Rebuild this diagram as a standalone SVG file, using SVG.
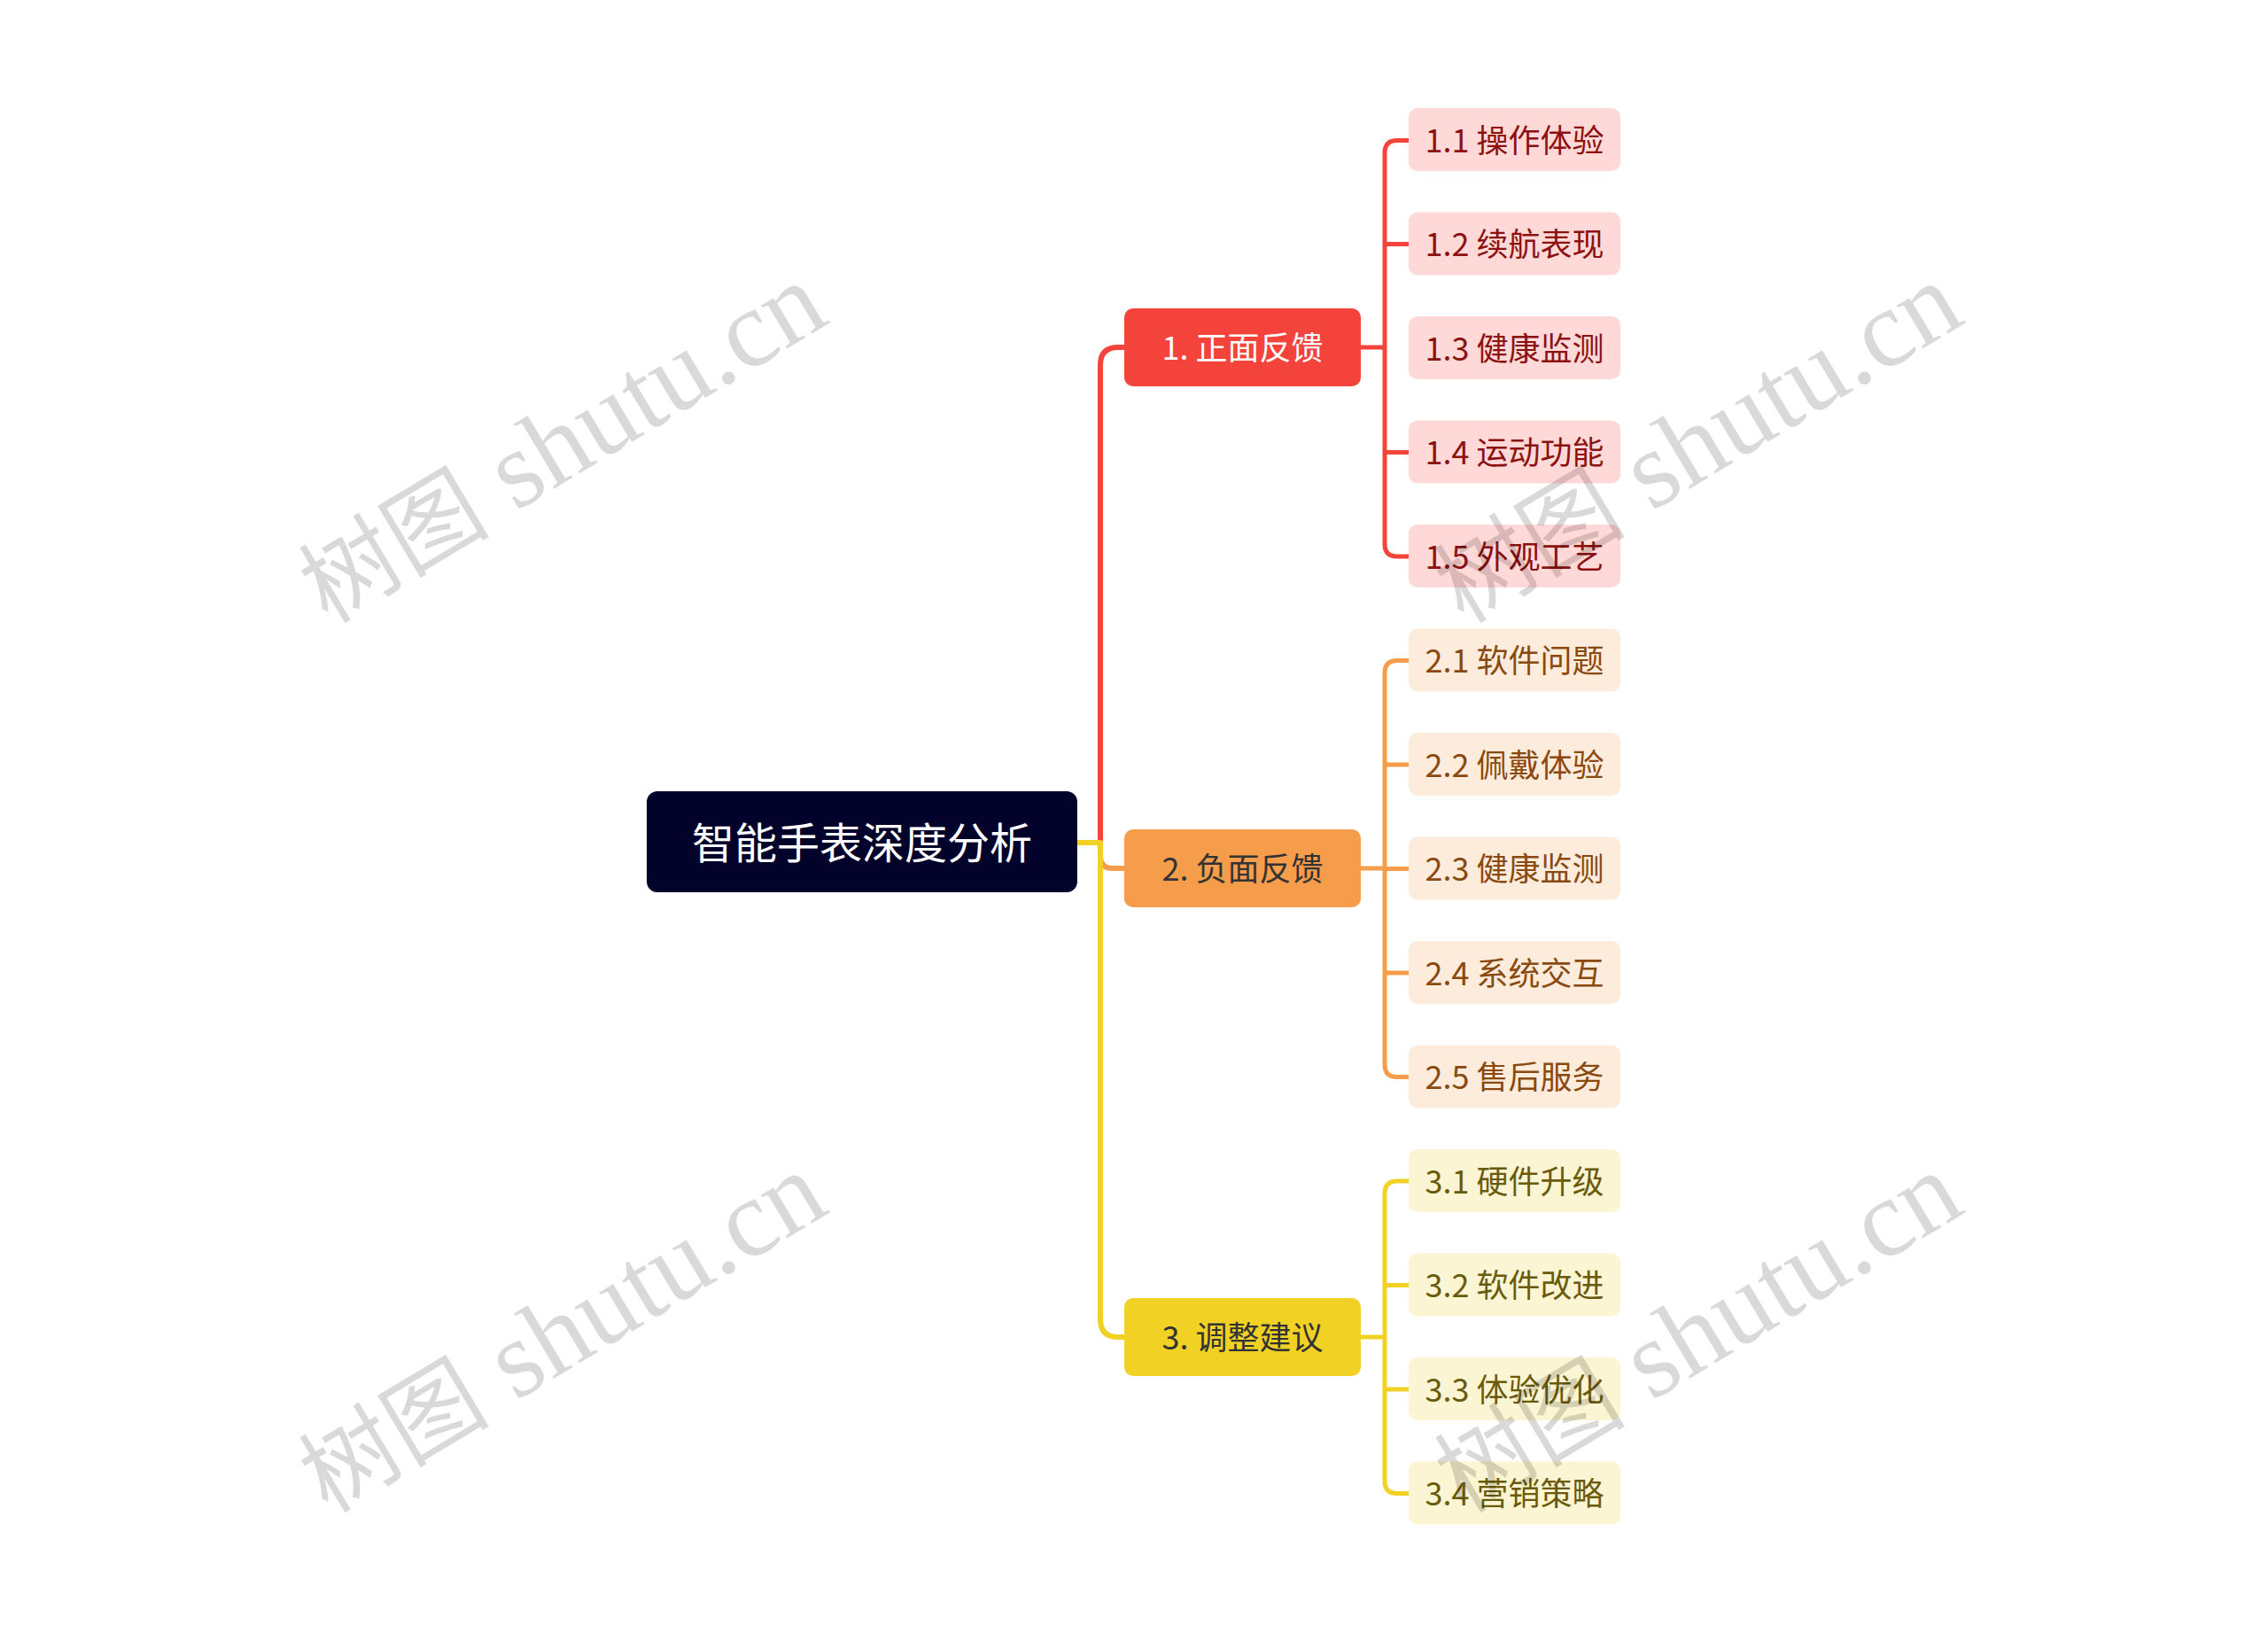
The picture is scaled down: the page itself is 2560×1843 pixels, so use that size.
<svg xmlns="http://www.w3.org/2000/svg" width="2560" height="1843" viewBox="0 0 2560 1843">
<style>
  .t { font-family: "Noto Sans CJK SC", "Liberation Sans", sans-serif; text-anchor: middle; dominant-baseline: central; }
  .c1 { fill: #FFD9D7; } .c2 { fill: #FDECDC; } .c3 { fill: #FCF5D3; }
  .ct1 { fill: #8C1111; font-size: 36px; } .ct2 { fill: #8A4A0F; font-size: 36px; } .ct3 { fill: #6A5B0C; font-size: 36px; }
  .ln { fill: none; stroke-linecap: butt; stroke-linejoin: round; }
  .r { stroke: #F4433B; } .o { stroke: #F59D4A; } .y { stroke: #F2D125; }
  .wm { fill: #000; fill-opacity: 0.15; }
  .wc { font-family: "Noto Sans CJK SC", sans-serif; font-size: 108px; }
  .wl { font-family: "Liberation Serif", serif; font-size: 124px; }
</style>
<rect width="2560" height="1843" fill="#FFFFFF"/>
<g id="connectors">
  <path class="ln r" stroke-width="6" d="M1242,951 V412 Q1242,392 1262,392 H1270"/>
  <path class="ln o" stroke-width="6" d="M1242,955 V966 Q1242,980 1256,980 H1270"/>
  <path class="ln y" stroke-width="6" d="M1215,951 H1242 V1489 Q1242,1509 1262,1509 H1270"/>
  <path class="ln r" stroke-width="5" d="M1536,392 H1563 M1591,158.5 H1577 Q1563,158.5 1563,172.5 V614 Q1563,628 1577,628 H1591 M1563,275.5 H1591 M1563,510.5 H1591"/>
  <path class="ln o" stroke-width="5" d="M1536,980 H1563 M1591,745.5 H1577 Q1563,745.5 1563,759.5 V1201.5 Q1563,1215.5 1577,1215.5 H1591 M1563,863 H1591 M1563,1098 H1591 M1563,980.5 H1591"/>
  <path class="ln y" stroke-width="5" d="M1536,1509 H1563 M1591,1333 H1577 Q1563,1333 1563,1347 V1671.5 Q1563,1685.5 1577,1685.5 H1591 M1563,1450.5 H1591 M1563,1568 H1591"/>
</g>
<g id="root">
  <rect x="730" y="893" width="486" height="114" rx="12" fill="#03022A"/>
  <text class="t" x="973" y="948" font-size="48" fill="#FFFFFF">智能手表深度分析</text>
</g>
<g id="b1">
  <rect x="1269" y="348" width="267" height="88" rx="10" fill="#F4433B"/>
  <text class="t" x="1402.5" y="390" font-size="36" fill="#FFFFFF">1. 正面反馈</text>
</g>
<g id="b2">
  <rect x="1269" y="936" width="267" height="88" rx="10" fill="#F59D4A"/>
  <text class="t" x="1402.5" y="978" font-size="36" fill="#333333">2. 负面反馈</text>
</g>
<g id="b3">
  <rect x="1269" y="1465" width="267" height="88" rx="10" fill="#F2D125"/>
  <text class="t" x="1402.5" y="1507" font-size="36" fill="#333333">3. 调整建议</text>
</g>
<g id="n11"><rect class="c1" x="1590" y="122" width="239" height="71" rx="10"/><text class="t ct1" x="1709.5" y="155.5">1.1 操作体验</text></g>
<g id="n12"><rect class="c1" x="1590" y="239.5" width="239" height="71" rx="10"/><text class="t ct1" x="1709.5" y="273">1.2 续航表现</text></g>
<g id="n13"><rect class="c1" x="1590" y="357" width="239" height="71" rx="10"/><text class="t ct1" x="1709.5" y="390.5">1.3 健康监测</text></g>
<g id="n14"><rect class="c1" x="1590" y="474.5" width="239" height="71" rx="10"/><text class="t ct1" x="1709.5" y="508">1.4 运动功能</text></g>
<g id="n15"><rect class="c1" x="1590" y="592" width="239" height="71" rx="10"/><text class="t ct1" x="1709.5" y="625.5">1.5 外观工艺</text></g>
<g id="n21"><rect class="c2" x="1590" y="709.5" width="239" height="71" rx="10"/><text class="t ct2" x="1709.5" y="743">2.1 软件问题</text></g>
<g id="n22"><rect class="c2" x="1590" y="827" width="239" height="71" rx="10"/><text class="t ct2" x="1709.5" y="860.5">2.2 佩戴体验</text></g>
<g id="n23"><rect class="c2" x="1590" y="944.5" width="239" height="71" rx="10"/><text class="t ct2" x="1709.5" y="978">2.3 健康监测</text></g>
<g id="n24"><rect class="c2" x="1590" y="1062" width="239" height="71" rx="10"/><text class="t ct2" x="1709.5" y="1095.5">2.4 系统交互</text></g>
<g id="n25"><rect class="c2" x="1590" y="1179.5" width="239" height="71" rx="10"/><text class="t ct2" x="1709.5" y="1213">2.5 售后服务</text></g>
<g id="n31"><rect class="c3" x="1590" y="1297" width="239" height="71" rx="10"/><text class="t ct3" x="1709.5" y="1330.5">3.1 硬件升级</text></g>
<g id="n32"><rect class="c3" x="1590" y="1414.5" width="239" height="71" rx="10"/><text class="t ct3" x="1709.5" y="1448">3.2 软件改进</text></g>
<g id="n33"><rect class="c3" x="1590" y="1532" width="239" height="71" rx="10"/><text class="t ct3" x="1709.5" y="1565.5">3.3 体验优化</text></g>
<g id="n34"><rect class="c3" x="1590" y="1649.5" width="239" height="71" rx="10"/><text class="t ct3" x="1709.5" y="1683">3.4 营销策略</text></g>
<g id="watermarks" class="wm">
  <text transform="translate(370,705) rotate(-31)"><tspan class="wc">树图</tspan><tspan class="wl"> shutu.cn</tspan></text>
  <text transform="translate(1652,705) rotate(-31)"><tspan class="wc">树图</tspan><tspan class="wl"> shutu.cn</tspan></text>
  <text transform="translate(370,1709) rotate(-31)"><tspan class="wc">树图</tspan><tspan class="wl"> shutu.cn</tspan></text>
  <text transform="translate(1652,1709) rotate(-31)"><tspan class="wc">树图</tspan><tspan class="wl"> shutu.cn</tspan></text>
</g>
</svg>
